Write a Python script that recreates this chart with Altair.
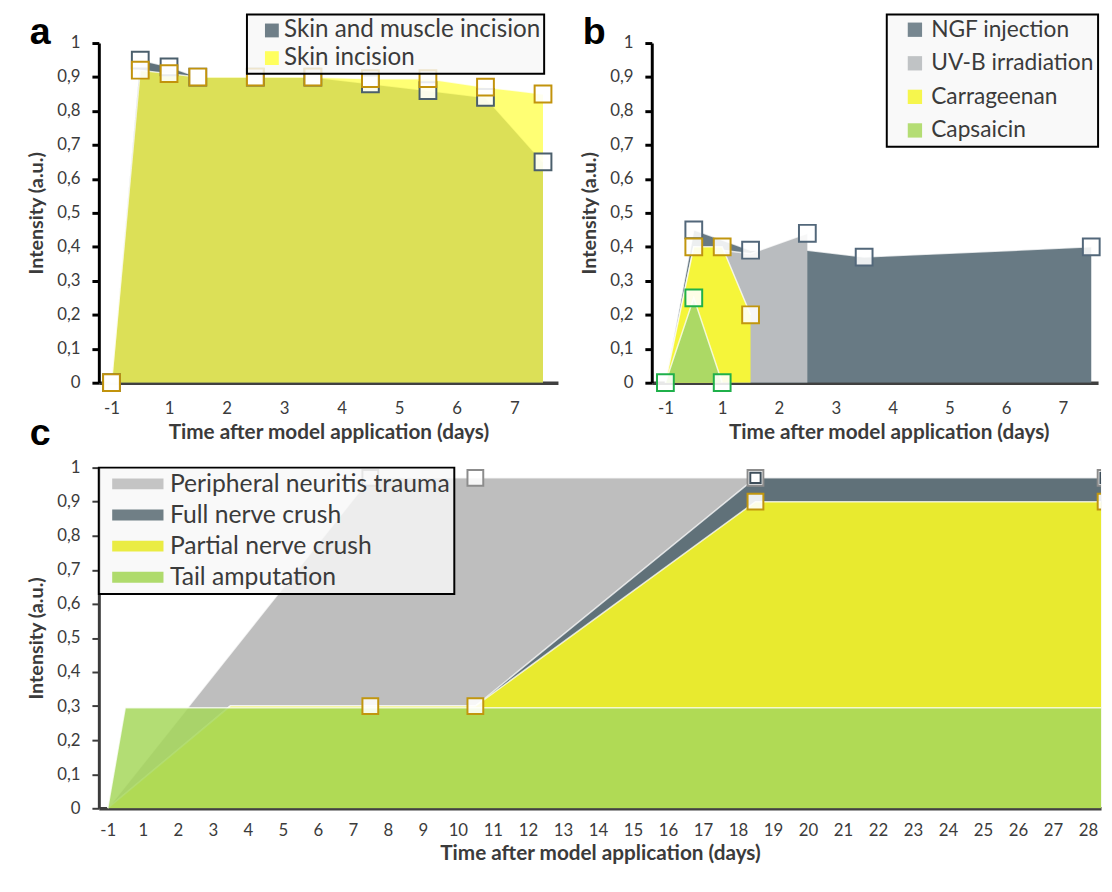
import altair as alt
import pandas as pd

FONT = "Lato"
TXT = "#3b3b3b"

# ---------------- data ----------------
y_ticks = [0, 0.1, 0.2, 0.3, 0.4, 0.5, 0.6, 0.7, 0.8, 0.9, 1]
x_ticks_ab = [0, 1, 2, 3, 4, 5, 6, 7]
x_ticks_c = list(range(0, 29))

# panel a
a_names = ["Skin and muscle incision", "Skin incision"]
a_x = [0, 0.5, 1, 1.5, 2.5, 3.5, 4.5, 5.5, 6.5, 7.5]
a_muscle = [0, 0.95, 0.93, 0.90, 0.90, 0.90, 0.88, 0.86, 0.84, 0.65]
a_skin = [0, 0.92, 0.91, 0.90, 0.90, 0.90, 0.895, 0.895, 0.87, 0.85]
a_marked = [True] * 10
a_fill = ["#5f717b", "#ffff4d"]
a_opacity = [1.0, 0.78]
a_mark = ["#4b5f6c", "#c2930c"]

# panel b
b_names = ["NGF injection", "UV-B irradiation", "Carrageenan", "Capsaicin"]
b_ngf_x = [0, 0.5, 1.5, 2.5, 3.5, 7.5]
b_ngf_y = [0, 0.45, 0.39, 0.39, 0.37, 0.40]
b_ngf_m = [False, True, True, False, True, True]
b_uvb_x = [0, 0.5, 1, 1.5, 2.5]
b_uvb_y = [0, 0.40, 0.39, 0.38, 0.44]
b_uvb_m = [False, False, False, False, True]
b_car_x = [0, 0.5, 1, 1.5]
b_car_y = [0, 0.40, 0.40, 0.20]
b_car_m = [False, True, True, True]
b_cap_x = [0, 0.5, 1]
b_cap_y = [0, 0.25, 0]
b_cap_m = [True, True, True]
b_fill = ["#687a84", "#b9bcbf", "#f5f53a", "#acd965"]
b_opacity = [1.0, 1.0, 1.0, 1.0]
b_mark = ["#52677a", "#52677a", "#c1960e", "#1fb04a"]

# panel c
c_names = ["Peripheral neuritis trauma", "Full nerve crush",
           "Partial nerve crush", "Tail amputation"]
c_pnt_x = [0, 7.5, 10.5, 18.5, 28.5]
c_pnt_y = [0, 0.97, 0.97, 0.97, 0.97]
c_pnt_m = [False, True, True, True, True]
c_fnc_x = [0, 3.5, 7.5, 10.5, 18.5, 28.5]
c_fnc_y = [0, 0.30, 0.30, 0.30, 0.97, 0.97]
c_fnc_m = [False, False, False, False, True, True]
c_pnc_x = [0, 3.5, 7.5, 10.5, 18.5, 28.5]
c_pnc_y = [0, 0.30, 0.30, 0.30, 0.90, 0.90]
c_pnc_m = [False, False, True, True, True, True]
c_tail_x = [0, 0.5, 28.5]
c_tail_y = [0, 0.295, 0.295]
c_tail_m = [False, False, False]
c_fill = ["#bebebe", "#607179", "#e8ea2f", "#a6d75c"]
c_opacity = [1.0, 1.0, 1.0, 0.85]
c_mark = ["#8c8c8c", "#3e4e5a", "#c1960e", "#8c8c8c"]
c_mark_size = [256, 110, 256, 256]


def y_axis(col, tick_w):
    return alt.Axis(
        values=y_ticks, grid=False, title="Intensity (a.u.)",
        labelExpr="datum.value == 0 ? '0' : (datum.value == 1 ? '1' : replace(format(datum.value, '.1f'), '.', ','))",
        domainColor=col, domainWidth=3, tickColor=col, tickWidth=tick_w, tickSize=7,
        labelFont=FONT, labelFontSize=17, labelColor=TXT, labelPadding=12,
        labelOverlap=False, labelFlush=False,
        titleFont=FONT, titleFontSize=20, titleFontWeight="bold", titleColor=TXT,
        titlePadding=10,
    )


def x_axis(vals, label_pad, title_pad, title_x=None):
    kw = {}
    if title_x is not None:
        kw["titleX"] = title_x
    return alt.Axis(
        values=vals, grid=False, title="Time after model application (days)",
        labelExpr="datum.value == 0 ? '-1' : format(datum.value, 'd')",
        ticks=False, tickSize=0, domainColor="#404040", domainWidth=3.5,
        labelFont=FONT, labelFontSize=17, labelColor=TXT, labelPadding=label_pad,
        labelOverlap=False, labelFlush=False,
        titleFont=FONT, titleFontSize=21, titleFontWeight="bold", titleColor=TXT,
        titlePadding=title_pad, **kw,
    )


def panel(letters, names, xs, ys, ms, fills, opac, mstroke,
          msize, xdom, width, height, xvals, ycol, ytickw, legend, clip_marks,
          label_pad, title_pad, title_x=None):
    xs_ = alt.Scale(domain=xdom, nice=False, zero=False)
    ys_ = alt.Scale(domain=[0, 1], nice=False, zero=False)
    xa = x_axis(xvals, label_pad, title_pad, title_x)
    ya = y_axis(ycol, ytickw)
    cscale = alt.Scale(domain=names, range=fills)
    layers = []
    for i, name in enumerate(names):
        df = pd.DataFrame({"x": xs[i], "y": ys[i], "series": name})
        enc = dict(x=alt.X("x:Q", scale=xs_, axis=xa), y=alt.Y("y:Q", scale=ys_, axis=ya))
        layers.append(
            alt.Chart(df).mark_area(opacity=opac[i], clip=True).encode(
                color=alt.Color("series:N", scale=cscale, legend=legend), **enc)
        )
        layers.append(
            alt.Chart(df).mark_line(color="white", strokeWidth=1.5, opacity=0.75, clip=True).encode(**enc)
        )
    for i, name in enumerate(names):
        df = pd.DataFrame({"x": xs[i], "y": ys[i], "m": ms[i]})
        df = df[df["m"]]
        if len(df) == 0:
            continue
        enc = dict(x=alt.X("x:Q", scale=xs_, axis=xa), y=alt.Y("y:Q", scale=ys_, axis=ya))
        layers.append(
            alt.Chart(df).mark_square(
                size=msize[i], filled=True, fill="white", fillOpacity=0.88, opacity=1,
                stroke=mstroke[i], strokeWidth=2, clip=clip_marks
            ).encode(**enc)
        )
    # panel letters (label text, placed relative to the plot's top-left corner)
    for letter, ly in letters:
        layers.append(
            alt.Chart(pd.DataFrame({"t": [letter]})).mark_text(
                font="Liberation Sans", fontSize=38, fontWeight="bold", color="black",
                align="left", baseline="alphabetic"
            ).encode(text="t:N", x=alt.value(-70), y=alt.value(ly))
        )
    return alt.layer(*layers).properties(width=width, height=height)


def legend(x, y, font_size, row_pad, sym_size, sym_type="square", sym_offset=0,
           label_offset=5, pad=4):
    return alt.Legend(
        orient="none", legendX=x, legendY=y, title=None,
        fillColor="rgba(248,248,248,0.82)", strokeColor="black", padding=pad,
        symbolType=sym_type, symbolSize=sym_size, symbolStrokeWidth=0, symbolOpacity=0.9,
        symbolOffset=sym_offset, labelOffset=label_offset,
        labelFont=FONT, labelFontSize=font_size, labelColor=TXT, rowPadding=row_pad,
        labelLimit=500,
    )


pa = panel([("a", 1), ("c", 407)], a_names, [a_x, a_x],
           [a_muscle, a_skin], [a_marked, a_marked],
           a_fill, a_opacity, a_mark, [289, 289], [-0.22, 7.76], 465, 344, x_ticks_ab,
           "black", 3, legend(150, -29, 24.5, 3, 196, sym_offset=9, label_offset=0), False,
           18, 6)

pb = panel([("b", 1)], b_names,
           [b_ngf_x, b_uvb_x, b_car_x, b_cap_x], [b_ngf_y, b_uvb_y, b_car_y, b_cap_y],
           [b_ngf_m, b_uvb_m, b_car_m, b_cap_m],
           b_fill, b_opacity, b_mark, [289] * 4, [-0.24, 7.62], 452, 344, x_ticks_ab,
           "black", 3, legend(238, -29, 23, 10, 210, sym_offset=13, label_offset=5), False,
           18, 6, title_x=240)

pc = panel([], c_names,
           [c_pnt_x, c_fnc_x, c_pnc_x, c_tail_x], [c_pnt_y, c_fnc_y, c_pnc_y, c_tail_y],
           [c_pnt_m, c_fnc_m, c_pnc_m, c_tail_m],
           c_fill, c_opacity, c_mark, c_mark_size, [-0.254, 28.37], 1015, 345, x_ticks_c,
           "#3c3c3c", 2,
           legend(0, 0, 25, 5.5, 484, sym_type="M-2.36,-0.5H2.36V0.5H-2.36Z",
                  sym_offset=23, label_offset=20), True,
           15, 4)

top = alt.hconcat(pa, pb, spacing=95, bounds="flush").resolve_scale(color="independent")
chart = (
    alt.vconcat(top, pc, spacing=6)
    .resolve_scale(color="independent")
    .properties(padding={"left": 19, "top": 0, "right": 0, "bottom": 0}, background="white")
    .configure_view(stroke=None)
    .configure_legend(strokeWidth=2)
)

chart.save("out.html", embed_options={"renderer": "svg", "actions": False})
